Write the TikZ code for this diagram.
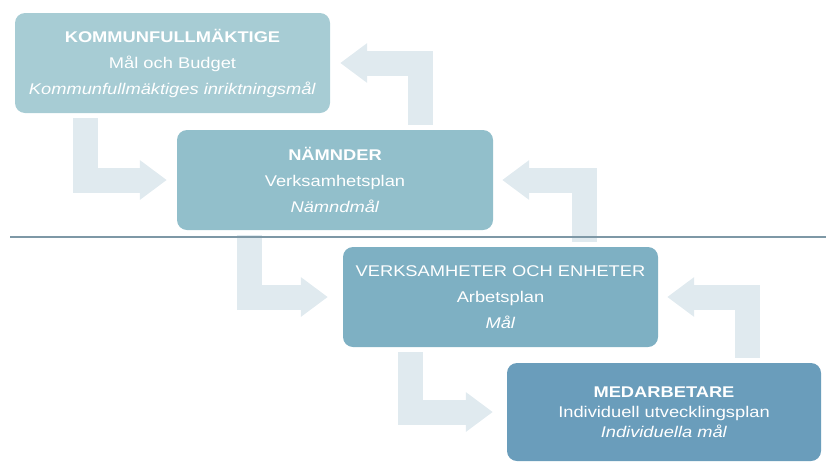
\documentclass[tikz,border=0pt]{standalone}
\usepackage{fontspec}
\setsansfont[FakeStretch=1.18]{Liberation Sans}
\usetikzlibrary{arrows.meta}
\pgfdeclarelayer{background}
\pgfsetlayers{background,main}
\definecolor{boxA}{HTML}{A7CCD4}
\definecolor{boxB}{HTML}{92BFCB}
\definecolor{boxC}{HTML}{7EB0C3}
\definecolor{boxD}{HTML}{6A9DBB}
\definecolor{arrowcol}{HTML}{E0EAEF}
\definecolor{linecol}{HTML}{7E98A6}
\tikzset{
  stagebox/.style={fill=#1, draw=none, rounded corners=10pt, text=white, align=center,
    inner sep=0pt, font=\sffamily\fontsize{15.5}{26}\selectfont},
  bigarrow/.style={draw=arrowcol, line width=25pt, line cap=butt, line join=miter,
    -{Triangle[length=27pt,width=38pt]}, shorten <=5pt},
}
\begin{document}
\begin{tikzpicture}[x=1pt,y=-1pt]
\useasboundingbox (0,0) rectangle (826,461);
% boxes
\node[stagebox=boxA, minimum width=315pt, minimum height=100pt] (k) at (172.5,63)
  {\textbf{KOMMUNFULLMÄKTIGE}\\Mål och Budget\\\textit{Kommunfullmäktiges inriktningsmål}};
\node[stagebox=boxB, minimum width=316pt, minimum height=100pt] (n) at (335,180)
  {\textbf{NÄMNDER}\\Verksamhetsplan\\\textit{Nämndmål}};
\node[stagebox=boxC, minimum width=315pt, minimum height=100pt] (v) at (500.5,297)
  {VERKSAMHETER OCH ENHETER\\Arbetsplan\\\textit{Mål}};
\node[stagebox=boxD, minimum width=314pt, minimum height=98pt,
  font=\sffamily\fontsize{15.5}{20}\selectfont] (m) at (664,412)
  {\textbf{MEDARBETARE}\\Individuell utvecklingsplan\\\textit{Individuella mål}};
% arrow guide coordinates
\coordinate (xa) at (85.5,0);
\coordinate (xb) at (420.5,0);
\coordinate (xc) at (249.5,0);
\coordinate (xd) at (584.5,0);
\coordinate (xe) at (747.5,0);
\coordinate (xf) at (410,0);
\coordinate (l1) at (10,237);
\coordinate (l2) at (826,237);
\begin{pgfonlayer}{background}
\draw[bigarrow, shorten >=10pt] (xa |- k.south) |- (n.west);
\draw[bigarrow, shorten >=10pt] (xb |- n.north) |- (k.east);
\draw[bigarrow, shorten >=15pt] (xc |- n.south) |- (v.west);
\draw[bigarrow, shorten >=9pt] (xd |- v.north) |- (n.east);
\draw[bigarrow, shorten >=9pt] (xe |- m.north) |- (v.east);
\draw[bigarrow, shorten >=14pt] (xf |- v.south) |- (m.west);
% separator line
\draw[linecol, line width=1.6pt] (l1) -- (l2);
\end{pgfonlayer}
\end{tikzpicture}
\end{document}
